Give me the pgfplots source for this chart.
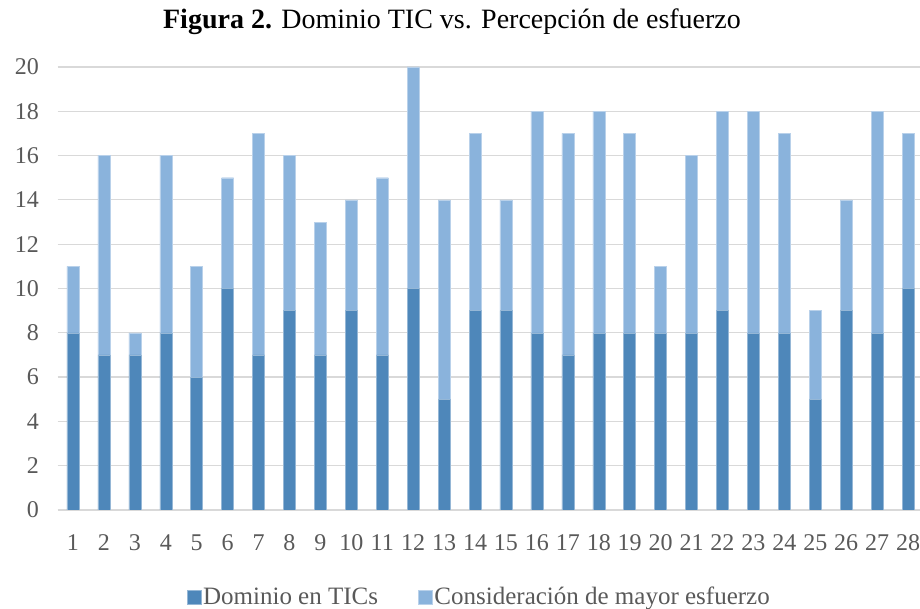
\documentclass[border=0pt]{standalone}
\usepackage{fontspec}
\setmainfont{Liberation Serif}
\usepackage{pgfplots}
\pgfplotsset{compat=1.18}
\usepackage{pgfplotstable}
\definecolor{dom}{HTML}{4E87BA}
\definecolor{cons}{HTML}{8AB3DC}
\definecolor{txt}{HTML}{595959}
\definecolor{grd}{HTML}{D9D9D9}
\pgfplotstableread{
x dom cons
1 8 3
2 7 9
3 7 1
4 8 8
5 6 5
6 10 5
7 7 10
8 9 7
9 7 6
10 9 5
11 7 8
12 10 10
13 5 9
14 9 8
15 9 5
16 8 10
17 7 10
18 8 10
19 8 9
20 8 3
21 8 8
22 9 9
23 8 10
24 8 9
25 5 4
26 9 5
27 8 10
28 10 7
}\datatable
\begin{document}
\begin{tikzpicture}[x=1pt,y=1pt]
\path[use as bounding box] (-57.5,-99) rectangle (862.5,510);
\begin{axis}[
  at={(0,0)}, anchor=south west,
  scale only axis, width=866pt, height=443pt,
  xmin=0.5, xmax=28.5, ymin=0, ymax=20,
  ybar stacked, bar width=12pt,
  xtick={1,...,28}, ytick={0,2,...,20},
  ymajorgrids, grid style={grd, line width=1.2pt},
  axis line style={draw=none},
  major tick length=0pt,
  tick label style={font=\fontsize{24}{28}\selectfont, text=txt},
  yticklabel style={anchor=east, xshift=-15pt},
  xticklabel style={anchor=north, yshift=-21pt},
  /pgf/number format/assume math mode=true,
  legend style={at={(0.487,-0.196)}, anchor=center, draw=none, fill=none,
    legend columns=2, font=\fontsize{25}{30}\selectfont, text=txt,
    /tikz/every even column/.append style={column sep=38pt}},
  legend image code/.code={\fill[#1] (0pt,-7pt) rectangle (14pt,7pt);},
]
\addplot[fill=dom, draw=dom!60!white, line width=0.4pt] table[x=x,y=dom]{\datatable};
\addplot[fill=cons, draw=cons!60!white, line width=0.4pt] table[x=x,y=cons]{\datatable};
\legend{Dominio en TICs, Consideración de mayor esfuerzo}
\end{axis}
\node[font=\fontsize{28}{33}\selectfont] at (394.5,488) {\textbf{Figura 2.} Dominio TIC vs. Percepción de esfuerzo};
\end{tikzpicture}
\end{document}
